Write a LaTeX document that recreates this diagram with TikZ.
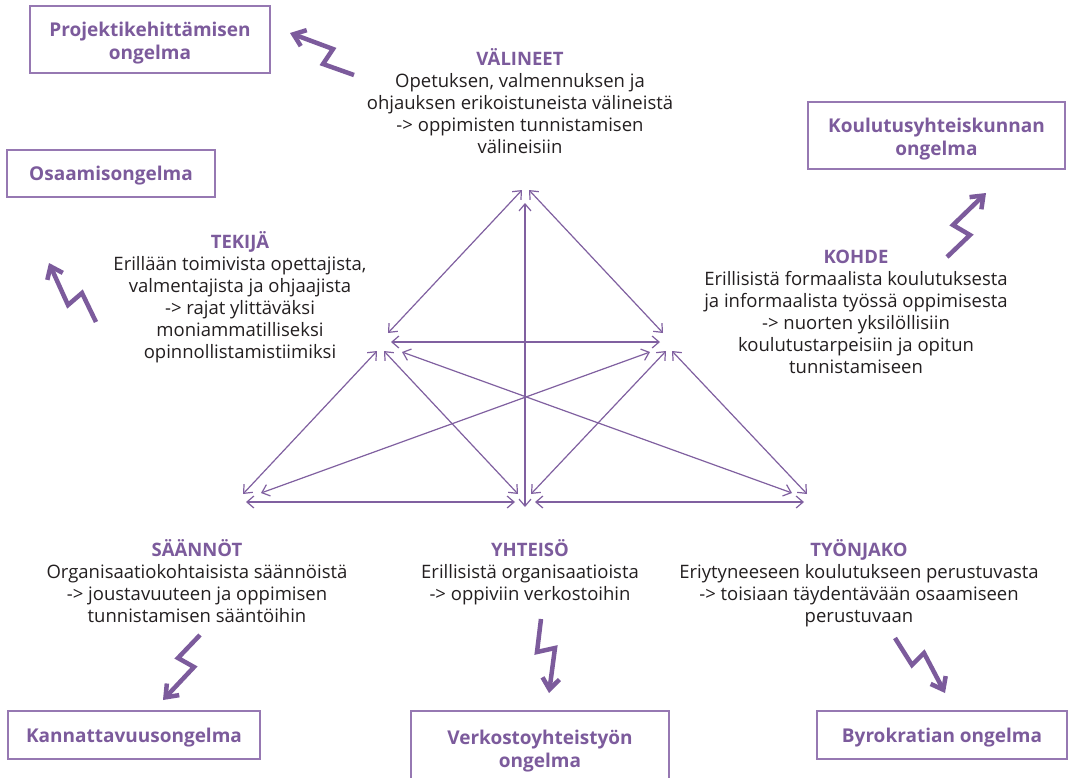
\documentclass[tikz,border=0pt]{standalone}
\usepackage{fontspec}
\setmainfont{Open Sans}
\usetikzlibrary{arrows.meta}
\definecolor{pur}{RGB}{124,91,156}
\definecolor{boxpur}{RGB}{150,120,178}
\definecolor{linepur}{RGB}{128,96,160}
\definecolor{txt}{RGB}{35,31,32}
\newcommand\hd[1]{{\color{pur}\bfseries\vphantom{ÄÖ}#1}}
\begin{document}
\begin{tikzpicture}[x=1pt,y=-1pt,
  probbox/.style={draw=boxpur, line width=1.5pt, inner sep=0pt},
  probtxt/.style={text=pur, font=\fontsize{19}{23}\selectfont\bfseries, align=center, inner sep=0pt},
  body/.style={text=txt, font=\fontsize{18.5}{22}\selectfont, align=center, inner sep=0pt, anchor=north},
  tri/.style={draw=linepur, line width=1.2pt, {Straight Barb[length=7pt,width=12pt]}-{Straight Barb[length=7pt,width=12pt]}},
  bolt/.style={draw=pur, line width=4.5pt, -{Straight Barb[length=11pt,width=17pt]}}]
\useasboundingbox (0,0) rectangle (1068,777);
\fill[white] (0,0) rectangle (1068,777);

% problem boxes
\node[probbox, minimum width=240pt, minimum height=67pt] (pk) at (150,39.5) {};
\node[probtxt] (pkt) at ([yshift=-3.5pt]pk.center) {Projektikehittämisen\\ongelma};
\node[probbox, minimum width=208pt, minimum height=47pt] (os) at (111,173.5) {};
\node[probtxt] (ost) at ([yshift=-2pt]os.center) {Osaamisongelma};
\node[probbox, minimum width=257pt, minimum height=67pt] (ky) at (936.5,135.5) {};
\node[probtxt] (kyt) at ([yshift=-4pt]ky.center) {Koulutusyhteiskunnan\\ongelma};
\node[probbox, minimum width=252pt, minimum height=48pt] (ka) at (134,735) {};
\node[probtxt] (kat) at ([yshift=-3pt]ka.center) {Kannattavuusongelma};
\node[probbox, minimum width=258pt, minimum height=73pt] (vy) at (540,747.5) {};
\node[probtxt] (vyt) at ([yshift=-3.5pt]vy.center) {Verkostoyhteistyön\\ongelma};
\node[probbox, minimum width=250pt, minimum height=48pt] (by) at (942,735) {};
\node[probtxt] (byt) at ([yshift=-3pt]by.center) {Byrokratian ongelma};

% text blocks
\node[body] (val) at (520,48) {\hd{VÄLINEET}\\Opetuksen, valmennuksen ja\\ohjauksen erikoistuneista välineistä\\-> oppimisten tunnistamisen\\välineisiin};
\node[body] (tek) at (240,231) {\hd{TEKIJÄ}\\Erillään toimivista opettajista,\\valmentajista ja ohjaajista\\-> rajat ylittäväksi\\moniammatilliseksi\\opinnollistamistiimiksi};
\node[body] (koh) at (856,246) {\hd{KOHDE}\\Erillisistä formaalista koulutuksesta\\ja informaalista työssä oppimisesta\\-> nuorten yksilöllisiin\\koulutustarpeisiin ja opitun\\tunnistamiseen};
\node[body] (saa) at (197,539) {\hd{SÄÄNNÖT}\\Organisaatiokohtaisista säännöistä\\-> joustavuuteen ja oppimisen\\tunnistamisen sääntöihin};
\node[body] (yht) at (530,539) {\hd{YHTEISÖ}\\Erillisistä organisaatioista\\-> oppiviin verkostoihin};
\node[body] (tyo) at (859,539) {\hd{TYÖNJAKO}\\Eriytyneeseen koulutukseen perustuvasta\\-> toisiaan täydentävään osaamiseen\\perustuvaan};

% triangle end points
\coordinate (tl1) at (522,190);   \coordinate (tl2) at (388,333);
\coordinate (tr1) at (529,190);   \coordinate (tr2) at (663,333);
\coordinate (tv1) at (525,203);   \coordinate (tv2) at (525,507);
\coordinate (lr1) at (391,342);   \coordinate (lr2) at (660,342);
\coordinate (lbl1) at (377,351);  \coordinate (lbl2) at (243,494);
\coordinate (lbc1) at (384,351);  \coordinate (lbc2) at (518,494);
\coordinate (lbr1) at (402,352);  \coordinate (lbr2) at (792,493);
\coordinate (rbl1) at (650,352);  \coordinate (rbl2) at (261,493);
\coordinate (rbc1) at (666,351);  \coordinate (rbc2) at (531,494);
\coordinate (rbr1) at (672,351);  \coordinate (rbr2) at (807,494);
\coordinate (bb1) at (246,502);   \coordinate (bb2) at (515,502);
\coordinate (bb3) at (535,502);   \coordinate (bb4) at (804,502);

\draw[tri] (tl1) -- (tl2);
\draw[tri] (tr1) -- (tr2);
\draw[tri] (tv1) -- (tv2);
\draw[tri] (lr1) -- (lr2);
\draw[tri] (lbl1) -- (lbl2);
\draw[tri] (lbc1) -- (lbc2);
\draw[tri] (lbr1) -- (lbr2);
\draw[tri] (rbl1) -- (rbl2);
\draw[tri] (rbc1) -- (rbc2);
\draw[tri] (rbr1) -- (rbr2);
\draw[tri] (bb1) -- (bb2);
\draw[tri] (bb3) -- (bb4);

% lightning arrows
\draw[bolt] (354,75) -- (323,64) -- (333,49) -- (290,33);
\draw[bolt] (96,322) -- (82,293) -- (68,305) -- (49,263);
\draw[bolt] (947,257) -- (970,235) -- (953,225) -- (986,193);
\draw[bolt] (200,635) -- (178,658) -- (194,667) -- (163,700);
\draw[bolt] (541,619) -- (537,652) -- (555,648) -- (549,693);
\draw[bolt] (895,638) -- (912,665) -- (924,653) -- (945,693);
\end{tikzpicture}
\end{document}
